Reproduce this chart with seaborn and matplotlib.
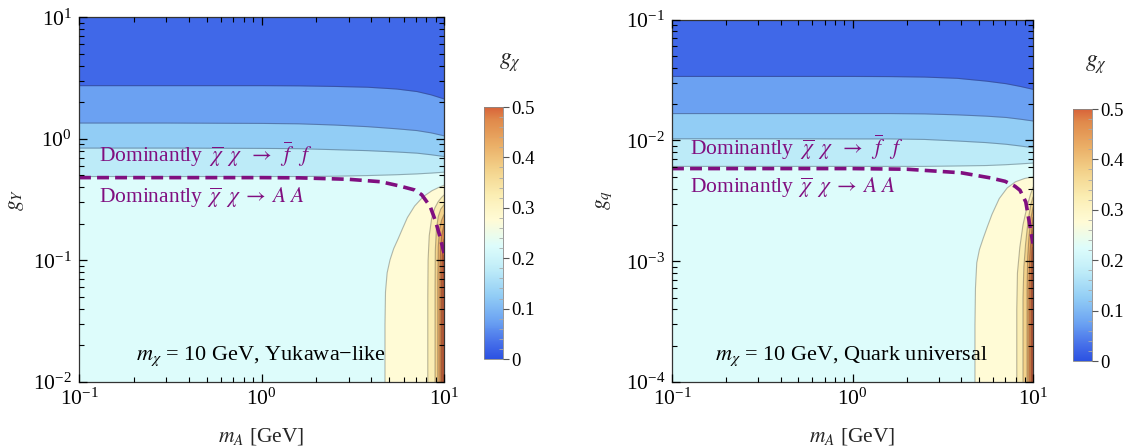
import numpy as np
import pandas as pd
import matplotlib
matplotlib.use("Agg")
import matplotlib.pyplot as plt
import seaborn as sns
from matplotlib import ticker
from matplotlib.colors import LinearSegmentedColormap, Normalize
from matplotlib.colorbar import ColorbarBase

# ---------------------------------------------------------------------------
# Colour scale for g_chi (0 ... 0.5)
# ---------------------------------------------------------------------------
cmap_values = [0.0, 0.025, 0.075, 0.125, 0.175, 0.225, 0.275, 0.325, 0.375, 0.425, 0.475, 0.5]
cmap_colors = ["#2c52e2", "#4169e8", "#6ba2f2", "#92cdf5", "#bdebf8", "#ddfcfb",
               "#fffbd6", "#fbeeb4", "#f3d38c", "#eaae66", "#e08a4c", "#d8643a"]

# ---------------------------------------------------------------------------
# Yukawa-like couplings: contour levels that run across the plane
# ---------------------------------------------------------------------------
mA_grid = [0.1, 0.3, 1.0, 1.6, 2.5, 3.8, 5.5, 7.1, 8.5, 10.0]
horizontal_levels = [0.05, 0.10, 0.15, 0.20]

gY_lvl005 = [2.74, 2.74, 2.74, 2.73, 2.70, 2.66, 2.57, 2.45, 2.30, 2.13]
gY_lvl010 = [1.35, 1.35, 1.34, 1.33, 1.30, 1.26, 1.21, 1.17, 1.12, 1.06]
gY_lvl015 = [0.84, 0.84, 0.835, 0.83, 0.815, 0.80, 0.78, 0.763, 0.74, 0.716]
gY_lvl020 = [0.49, 0.49, 0.49, 0.49, 0.493, 0.499, 0.507, 0.515, 0.523, 0.532]

# Contours that close against m_A = m_chi (points as (m_A, g_Y))
gY_dome025 = [(4.75, 0.01), (4.75, 0.03), (4.78, 0.055), (4.88, 0.079), (5.06, 0.101),
              (5.3, 0.125), (5.6, 0.15), (5.9, 0.18), (6.3, 0.225), (6.9, 0.28),
              (7.7, 0.335), (8.6, 0.375), (9.4, 0.40), (10.0, 0.415)]
gY_dome030 = [(8.15, 0.01), (8.15, 0.05), (8.18, 0.1), (8.3, 0.16), (8.55, 0.22),
              (8.9, 0.27), (9.3, 0.305), (9.7, 0.33), (10.0, 0.345)]
gY_dome035 = [(8.93, 0.01), (8.93, 0.06), (8.96, 0.12), (9.08, 0.18), (9.3, 0.23),
              (9.6, 0.265), (10.0, 0.287)]
gY_dome040 = [(9.25, 0.01), (9.25, 0.07), (9.3, 0.13), (9.45, 0.18), (9.7, 0.215), (10.0, 0.238)]
gY_dome045 = [(9.5, 0.01), (9.5, 0.07), (9.56, 0.12), (9.7, 0.16), (10.0, 0.196)]
gY_dome050 = [(9.7, 0.01), (9.7, 0.07), (9.78, 0.11), (10.0, 0.15)]
gY_dome055 = [(9.88, 0.01), (9.88, 0.06), (10.0, 0.11)]

# Boundary between the f fbar and A A dominated regions
gY_split_mA = [0.1, 1.0, 1.6, 3.0, 4.5, 5.7, 6.9, 7.55, 8.4, 9.0, 9.5, 10.0]
gY_split_g = [0.48, 0.48, 0.478, 0.465, 0.444, 0.41, 0.38, 0.347, 0.278, 0.209, 0.157, 0.115]

# ---------------------------------------------------------------------------
# Quark-universal couplings
# ---------------------------------------------------------------------------
gq_lvl005 = [0.0339, 0.0339, 0.0339, 0.0338, 0.0335, 0.0327, 0.0310, 0.0295, 0.0280, 0.0265]
gq_lvl010 = [0.0167, 0.0167, 0.0167, 0.0167, 0.0166, 0.0163, 0.0159, 0.0155, 0.0150, 0.0145]
gq_lvl015 = [0.01033, 0.01033, 0.0103, 0.0103, 0.0102, 0.0099, 0.0096, 0.0093, 0.0090, 0.0087]
gq_lvl020 = [0.0061, 0.0061, 0.0061, 0.0061, 0.0061, 0.00615, 0.0062, 0.0063, 0.0064, 0.0065]

gq_dome025 = [(4.77, 1e-4), (4.77, 3e-4), (4.8, 6e-4), (4.88, 9.7e-4), (5.05, 1.25e-3),
              (5.3, 1.55e-3), (5.6, 1.95e-3), (5.93, 2.45e-3), (6.5, 3.3e-3),
              (7.2, 4.05e-3), (8.0, 4.55e-3), (9.0, 4.85e-3), (10.0, 5.0e-3)]
gq_dome030 = [(8.13, 1e-4), (8.13, 4e-4), (8.2, 8e-4), (8.45, 1.3e-3), (8.8, 2.0e-3),
              (9.3, 2.9e-3), (9.7, 3.6e-3), (10.0, 4.1e-3)]
gq_dome035 = [(8.8, 1e-4), (8.8, 5e-4), (8.9, 9e-4), (9.1, 1.4e-3), (9.4, 2.2e-3),
              (9.75, 3.0e-3), (10.0, 3.4e-3)]
gq_dome040 = [(9.27, 1e-4), (9.27, 6e-4), (9.35, 1.1e-3), (9.5, 1.6e-3), (9.75, 2.3e-3), (10.0, 2.8e-3)]
gq_dome045 = [(9.5, 1e-4), (9.5, 6e-4), (9.6, 1.1e-3), (9.8, 1.7e-3), (10.0, 2.3e-3)]
gq_dome050 = [(9.75, 1e-4), (9.75, 7e-4), (9.85, 1.2e-3), (10.0, 1.8e-3)]
gq_dome055 = [(9.9, 1e-4), (9.9, 6e-4), (10.0, 1.3e-3)]

gq_split_mA = [0.1, 1.0, 2.0, 4.0, 5.8, 7.0, 7.94, 8.47, 9.12, 9.35, 9.62, 9.84, 10.0]
gq_split_g = [0.00585, 0.00585, 0.00578, 0.0054, 0.0049, 0.00459, 0.00418, 0.00387,
              0.0031, 0.0025, 0.00195, 0.0016, 0.0014]

dome_levels = [0.25, 0.30, 0.35, 0.40, 0.45, 0.50, 0.55]

# ---------------------------------------------------------------------------
sns.set_style("ticks")
plt.rcParams.update({
    "font.family": ["Liberation Serif", "DejaVu Serif"],
    "mathtext.fontset": "stix",
    "axes.edgecolor": "#333333",
    "axes.linewidth": 0.9,
    "axes.axisbelow": False,
    "xtick.direction": "in",
    "ytick.direction": "in",
    "xtick.top": True,
    "ytick.right": True,
    "xtick.color": "black",
    "ytick.color": "black",
    "xtick.major.size": 6,
    "ytick.major.size": 6,
    "xtick.minor.size": 3.5,
    "ytick.minor.size": 3.5,
    "xtick.major.width": 0.9,
    "ytick.major.width": 0.9,
    "xtick.minor.width": 0.8,
    "ytick.minor.width": 0.8,
})

PURPLE = "#800f80"
LINE_C = (0.15, 0.15, 0.15, 0.32)
W, H = 1128, 448

cmap = LinearSegmentedColormap.from_list(
    "gchi", list(zip(np.array(cmap_values) / 0.5, cmap_colors)))
norm = Normalize(0.0, 0.5)


def band_color(v):
    return cmap(norm(min(v, 0.5)))


def draw_panel(ax, bounds, domes, split_mA, split_g, ylim, note, note_x,
               txt_x, txt_y1, txt_y2):
    ymin, ymax = ylim
    ax.set_xscale("log")
    ax.set_yscale("log")
    ax.set_xlim(0.1, 10.0)
    ax.set_ylim(ymin, ymax)

    # background band (0.20 - 0.25)
    ax.fill_between(mA_grid, ymin, ymax, color=band_color(0.225), lw=0)
    # bands above each across-running contour, painted from low to high coupling
    for lvl, b in sorted(zip(horizontal_levels, bounds), reverse=True):
        ax.fill_between(mA_grid, b, ymax, color=band_color(lvl - 0.025), lw=0)
    # bands closing against the kinematic threshold
    for lvl, pts in zip(dome_levels, domes):
        xs = [p[0] for p in pts] + [10.0]
        ys = [p[1] for p in pts] + [ymin]
        ax.fill(xs, ys, color=band_color(lvl + 0.025), lw=0)
    # contour lines
    for b in bounds:
        ax.plot(mA_grid, b, color=LINE_C, lw=0.8)
    for pts in domes:
        ax.plot([p[0] for p in pts], [p[1] for p in pts], color=LINE_C, lw=0.8)

    df = pd.DataFrame({"mA": split_mA, "g": split_g})
    sns.lineplot(data=df, x="mA", y="g", ax=ax, color=PURPLE, lw=2.6,
                 estimator=None, sort=False)
    ax.lines[-1].set_linestyle((0, (3.3, 1.7)))

    ax.set_xlim(0.1, 10.0)
    ax.set_ylim(ymin, ymax)
    ax.set_xlabel("")
    ax.set_ylabel("")

    ax.text(txt_x, txt_y1,
            r"Dominantly $\;\overline{\chi}\;\;\chi\;\;\rightarrow\;\;\overline{f}\;\;\;f$",
            transform=ax.transAxes, color=PURPLE, fontsize=15.5, va="baseline")
    ax.text(txt_x, txt_y2,
            r"Dominantly $\,\overline{\chi}\;\;\chi\;\rightarrow\;A\;A$",
            transform=ax.transAxes, color=PURPLE, fontsize=15.5, va="baseline")
    ax.text(note_x, 0.06, note, transform=ax.transAxes, fontsize=16,
            ha="center", va="baseline", color="black")

    # inward frame ticks on all four sides
    ax.xaxis.set_major_locator(ticker.LogLocator(base=10, numticks=10))
    ax.yaxis.set_major_locator(ticker.LogLocator(base=10, numticks=10))
    ax.xaxis.set_minor_locator(ticker.LogLocator(base=10, subs=np.arange(2, 10), numticks=20))
    ax.yaxis.set_minor_locator(ticker.LogLocator(base=10, subs=np.arange(2, 10), numticks=20))
    ax.xaxis.set_major_formatter(ticker.LogFormatterMathtext())
    ax.yaxis.set_major_formatter(ticker.LogFormatterMathtext())
    ax.xaxis.set_minor_formatter(ticker.NullFormatter())
    ax.yaxis.set_minor_formatter(ticker.NullFormatter())
    ax.tick_params(which="both", direction="in", top=True, right=True,
                   bottom=True, left=True, color="black", labelsize=15.5)
    ax.tick_params(which="major", length=6, width=0.9, pad=5)
    ax.tick_params(which="minor", length=3.5, width=0.8)


def draw_colorbar(cax):
    cb = ColorbarBase(cax, cmap=cmap, norm=norm, orientation="vertical")
    cb.outline.set_edgecolor("#888888")
    cb.outline.set_linewidth(0.6)
    cb.set_ticks([0, 0.1, 0.2, 0.3, 0.4, 0.5])
    cb.set_ticklabels(["0", "0.1", "0.2", "0.3", "0.4", "0.5"])
    cax.yaxis.set_minor_locator(ticker.MultipleLocator(0.02))
    cax.tick_params(which="both", left=False, right=True, labelleft=False, labelright=True)
    cax.tick_params(which="major", direction="out", length=4, width=0.8,
                    color="#555555", labelsize=13.5, pad=2)
    cax.tick_params(which="minor", direction="in", length=3, width=0.6, color="#aaaaaa")


fig = plt.figure(figsize=(W / 100, H / 100), dpi=100)

ax1 = fig.add_axes([79 / W, (H - 382) / H, 365 / W, 364.7 / H])
ax2 = fig.add_axes([672 / W, (H - 382) / H, 361 / W, 362.3 / H])
cax1 = fig.add_axes([484 / W, (H - 359) / H, 19 / W, 252 / H])
cax2 = fig.add_axes([1073 / W, (H - 361) / H, 19 / W, 252 / H])

draw_panel(ax1, [gY_lvl005, gY_lvl010, gY_lvl015, gY_lvl020],
           [gY_dome025, gY_dome030, gY_dome035, gY_dome040, gY_dome045, gY_dome050, gY_dome055],
           gY_split_mA, gY_split_g, (1e-2, 1e1),
           r"$m_\chi$ = 10 GeV, Yukawa−like", 0.5, 0.055, 0.604, 0.491)
draw_panel(ax2, [gq_lvl005, gq_lvl010, gq_lvl015, gq_lvl020],
           [gq_dome025, gq_dome030, gq_dome035, gq_dome040, gq_dome045, gq_dome050, gq_dome055],
           gq_split_mA, gq_split_g, (1e-4, 1e-1),
           r"$m_\chi$ = 10 GeV, Quark universal", 0.496, 0.05, 0.626, 0.522)

draw_colorbar(cax1)
draw_colorbar(cax2)

# axis titles
fig.text(261.5 / W, (H - 436) / H, r"$m_A$ [GeV]", ha="center", va="center", fontsize=15.5)
fig.text(852.5 / W, (H - 436) / H, r"$m_A$ [GeV]", ha="center", va="center", fontsize=15.5)
fig.text(16 / W, (H - 200) / H, r"$g_Y$", ha="center", va="center", rotation=90, fontsize=15.5)
fig.text(604 / W, (H - 200) / H, r"$g_q$", ha="center", va="center", rotation=90, fontsize=15.5)
fig.text(510 / W, (H - 63) / H, r"$g_\chi$", ha="center", va="center", fontsize=17)
fig.text(1096 / W, (H - 65) / H, r"$g_\chi$", ha="center", va="center", fontsize=17)

fig.savefig("out.png", dpi=100)
